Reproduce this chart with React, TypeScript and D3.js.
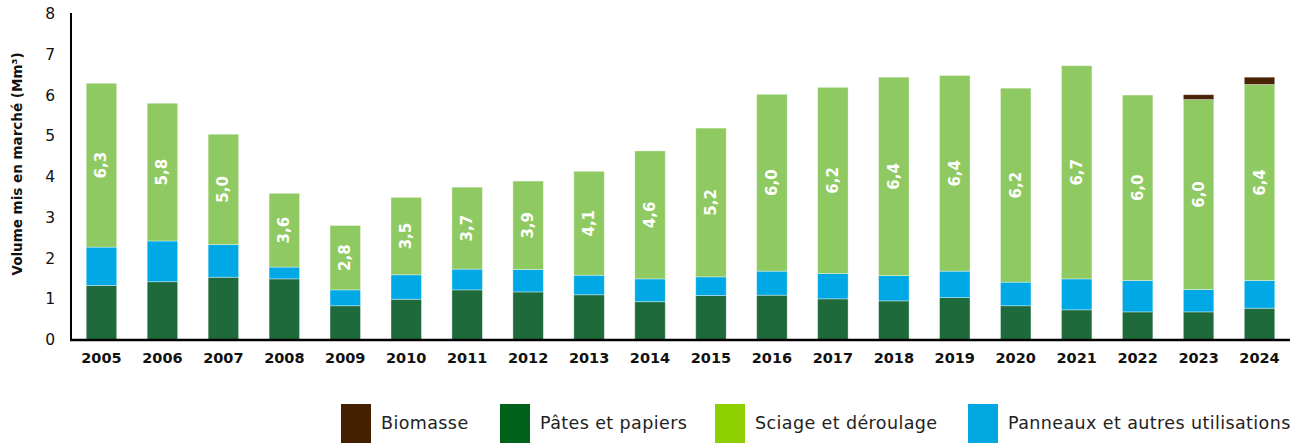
import React from "react";
import * as d3 from "d3";

const years = ["2005","2006","2007","2008","2009","2010","2011","2012","2013","2014","2015","2016","2017","2018","2019","2020","2021","2022","2023","2024"];
const pates = [1.34,1.43,1.54,1.50,0.84,1.00,1.23,1.18,1.11,0.94,1.09,1.10,1.01,0.96,1.04,0.84,0.74,0.69,0.69,0.78];
const panneaux = [0.94,1.00,0.80,0.29,0.39,0.60,0.51,0.55,0.48,0.56,0.46,0.59,0.62,0.62,0.65,0.58,0.76,0.77,0.55,0.68];
const sciage = [4.02,3.38,2.71,1.81,1.58,1.90,2.01,2.17,2.55,3.14,3.65,4.34,4.57,4.87,4.80,4.76,5.23,4.55,4.66,4.81];
const biomasse = [0,0,0,0,0,0,0,0,0,0,0,0,0,0,0,0,0,0,0.12,0.18];
const totalLabels = ["6,3","5,8","5,0","3,6","2,8","3,5","3,7","3,9","4,1","4,6","5,2","6,0","6,2","6,4","6,4","6,2","6,7","6,0","6,0","6,4"];
const yTicks = [0,1,2,3,4,5,6,7,8];
const seriesKeys = ["pates","panneaux","sciage","biomasse"];
const barColors: Record<string,string> = { pates: "#1e6a3b", panneaux: "#00a9e6", sciage: "#8fc961", biomasse: "#4a2206" };
const legendItems = ["Biomasse","Pâtes et papiers","Sciage et déroulage","Panneaux et autres utilisations"];
const legendColors = ["#432000","#00621a","#8ecf00","#00a7e0"];
const yTitle = "Volume mis en marché (Mm³)";

export default function App() {
  const W = 1299, H = 443;
  const x = d3.scaleBand<string>().domain(years).range([71, 1290]).paddingInner(0.5).paddingOuter(0.25);
  const y = d3.scaleLinear().domain([0, 8]).range([340, 14]);
  const rows = years.map((yr, i) => ({ year: yr, pates: pates[i], panneaux: panneaux[i], sciage: sciage[i], biomasse: biomasse[i] }));
  const stacked = d3.stack<any>().keys(seriesKeys)(rows);
  const sciageLayer = stacked[2];
  const legendX = [341, 500, 715, 968];
  const font = "'DejaVu Sans', sans-serif";
  return (
    <div style={{ position: "absolute", left: 0, top: 0 }}>
      <svg width={W} height={H} style={{ display: "block" }}>
        {stacked.map((layer) => (
          <g key={layer.key} fill={barColors[layer.key]}>
            {layer.map((d, i) => {
              const h = y(d[0]) - y(d[1]);
              if (h <= 0) return null;
              return (
                <rect key={i} x={x(years[i])} y={y(d[1])} width={x.bandwidth()} height={h}
                  stroke="#ffffff" strokeOpacity={0.45} strokeWidth={0.8} />
              );
            })}
          </g>
        ))}
        {sciageLayer.map((d, i) => {
          const cx = (x(years[i]) as number) + x.bandwidth() / 2;
          const cy = (y(d[0]) + y(d[1])) / 2;
          return (
            <text key={i} transform={`translate(${cx},${cy}) rotate(-90)`} textAnchor="middle" dominantBaseline="central"
              fill="#ffffff" fontFamily={font} fontWeight={700} fontSize={15}>{totalLabels[i]}</text>
          );
        })}
        <line x1={71} x2={71} y1={13} y2={341} stroke="#000" strokeWidth={2} />
        <line x1={70} x2={1290} y1={340} y2={340} stroke="#000" strokeWidth={2.5} />
        {yTicks.map((t) => (
          <text key={t} x={55} y={y(t)} textAnchor="end" dominantBaseline="central" fontFamily={font} fontSize={15.5} fill="#111">{t}</text>
        ))}
        {years.map((yr) => (
          <text key={yr} x={(x(yr) as number) + x.bandwidth() / 2} y={358} textAnchor="middle" dominantBaseline="central"
            fontFamily={font} fontWeight={700} fontSize={14.5} fill="#111">{yr}</text>
        ))}
        <text transform={`translate(17,164) rotate(-90)`} textAnchor="middle" dominantBaseline="central"
          fontFamily={font} fontWeight={700} fontSize={13.5} fill="#111">{yTitle}</text>
        {legendItems.map((name, i) => (
          <g key={name}>
            <rect x={legendX[i]} y={404} width={30} height={39} fill={legendColors[i]} />
            <text x={legendX[i] + 40} y={423} dominantBaseline="central" fontFamily={font} fontSize={17.5}
              letterSpacing={0.4} fill="#222">{name}</text>
          </g>
        ))}
      </svg>
    </div>
  );
}
